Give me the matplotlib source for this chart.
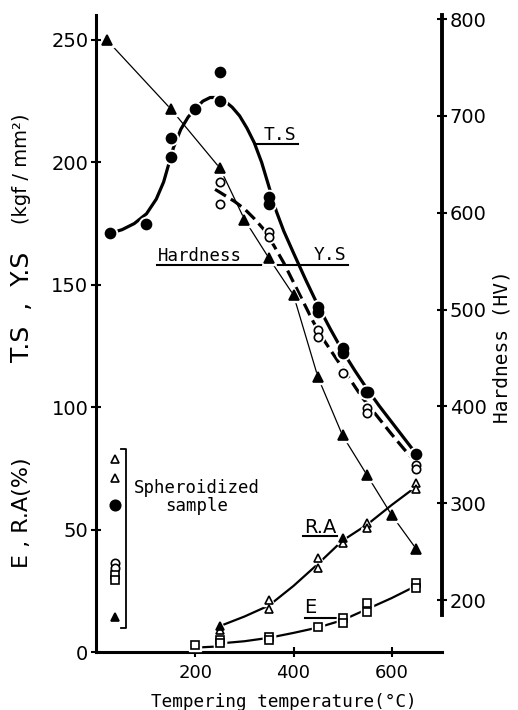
import matplotlib
matplotlib.use('Agg')
import matplotlib.pyplot as plt

# --- data ----------------------------------------------------------------
# tensile strength (filled circles), kgf/mm2
ts_temp = [25, 100, 150, 150, 200, 250, 250, 350, 350, 450, 450, 500, 500, 547, 553, 650]
ts_val = [171, 175, 202, 210, 222, 225, 237, 186, 183, 141, 139, 124, 122, 106, 106, 81]
ts_curve_temp = [25, 50, 75, 100, 120, 135, 145, 155, 170, 185, 200, 215, 230, 245,
                 260, 275, 290, 305, 320, 335, 350, 365, 380, 400, 425, 450, 475,
                 500, 525, 550, 575, 600, 625, 650]
ts_curve_val = [171, 172.5, 175, 179, 185, 192, 199, 206, 213.5, 218.5, 222, 225,
                226.5, 226.5, 225, 222.5, 219, 214, 208, 200, 190, 180, 172, 163,
                152, 141.5, 132, 123, 115, 107.5, 100.5, 94, 87.5, 81]

# yield strength (open circles), kgf/mm2
ys_temp = [250, 250, 350, 350, 450, 450, 500, 550, 550, 650, 650]
ys_val = [192, 183, 171.6, 169.5, 131.5, 128.7, 114, 99.7, 97.6, 76.4, 74.8]
ys_curve_temp = [240, 260, 280, 300, 320, 340, 360, 380, 400, 420, 440, 460, 480,
                 500, 520, 540, 560, 580, 600, 625, 650]
ys_curve_val = [189, 186.5, 184, 181, 177, 172.5, 166, 159, 151, 143, 135, 128,
                122, 116, 110, 104, 99, 94, 89, 83, 77.5]

# hardness (filled triangles), HV
hv_temp = [20, 150, 250, 300, 350, 400, 450, 500, 550, 600, 650]
hv_val = [778, 707, 646, 593, 553, 515, 430, 370, 329, 288, 253]

# reduction of area (triangles), %
ra_temp = [250, 350, 350, 450, 450, 500, 550, 550, 650, 650]
ra_val = [9, 21.2, 17.6, 38.4, 34.3, 44.5, 52.7, 50.7, 69, 66.6]
ra_filled_temp = [250, 500]
ra_filled_val = [10.6, 46.6]
ra_curve_temp = [250, 300, 350, 400, 450, 500, 550, 600, 650]
ra_curve_val = [10.6, 14.5, 19, 27, 36, 45.5, 52, 60, 67.5]

# elongation (open squares), %
el_temp = [200, 250, 250, 350, 350, 450, 500, 500, 550, 550, 650, 650]
el_val = [2.9, 4.9, 3.5, 6.1, 4.9, 10.2, 13.9, 11.8, 20, 16.3, 28, 26]
el_curve_temp = [250, 300, 350, 400, 450, 500, 550, 600, 650]
el_curve_val = [3.5, 4.4, 5.8, 7.8, 10, 13, 17.5, 22, 27]

# spheroidized sample
sph_temp = 36
sph_ra = [78.8, 71]
sph_ts = [60]
sph_ys = [36.3, 34.3]
sph_el = [31.5, 29.4]
sph_ra_filled = [14.3]

W, H = 518, 710
MONO = 'DejaVu Sans Mono'


def marks(axis, x, y, marker, size, filled=True, halo=3.0):
    # white halo first so the curves look broken around each symbol
    axis.plot(x, y, ls='none', marker=marker, ms=size + halo, mfc='white',
              mec='white', zorder=3, clip_on=False)
    axis.plot(x, y, ls='none', marker=marker, ms=size,
              mfc='black' if filled else 'white', mec='black', mew=1.2,
              zorder=4, clip_on=False)


fig = plt.figure(figsize=(W / 100, H / 100), dpi=100)
ax = fig.add_axes([96 / W, (H - 652) / H, (442 - 96) / W, (652 - 15) / H])
ax.set_xlim(-3, 703)
ax.set_ylim(0, 260.2)

ax2 = ax.twinx()
ax2.set_ylim(146.3, 804.3)

# curves
ax.plot(ts_curve_temp, ts_curve_val, color='black', lw=2.3, zorder=2,
        solid_joinstyle='round')
ax.plot(ys_curve_temp, ys_curve_val, color='black', lw=2.3, zorder=2,
        dashes=(4, 1.8))
ax2.plot(hv_temp, hv_val, color='black', lw=0.9, zorder=2)
ax.plot(ra_curve_temp, ra_curve_val, color='black', lw=1.6, zorder=2)
ax.plot(el_curve_temp, el_curve_val, color='black', lw=1.6, zorder=2)
ax.plot(el_temp[:2], [1.8, 2.3], color='black', lw=1.6, zorder=2)

# symbols
marks(ax, ts_temp, ts_val, 'o', 7.2, True)
marks(ax, ys_temp, ys_val, 'o', 6, False)
marks(ax2, hv_temp, hv_val, '^', 6.5, True)
marks(ax, ra_temp, ra_val, '^', 5.8, False)
marks(ax, ra_filled_temp, ra_filled_val, '^', 6, True)
marks(ax, el_temp, el_val, 's', 5.2, False)

sx = [sph_temp]
marks(ax, sx * 2, sph_ra, '^', 5.8, False, halo=1)
marks(ax, sx, sph_ts, 'o', 7.5, True, halo=1)
marks(ax, sx * 2, sph_ys, 'o', 6, False, halo=1)
marks(ax, sx * 2, sph_el, 's', 5.2, False, halo=1)
marks(ax, sx, sph_ra_filled, '^', 6, True, halo=1)

# bracket + label for spheroidized sample
ax.plot([48, 58, 58, 48], [83, 83, 9.8, 9.8], color='black', lw=1.3)
ax.text(203, 63.5, 'Spheroidized\nsample', ha='center', va='center',
        family=MONO, fontsize=12.5, linespacing=1.0)

# curve labels with underlines
ax.text(372, 211, 'T.S', ha='center', va='center', family=MONO, fontsize=13)
ax.plot([321, 409], [207.5, 207.5], color='black', lw=1.5)
ax.text(209, 161.8, 'Hardness', ha='center', va='center', family=MONO, fontsize=12.5)
ax.text(474.5, 162, 'Y.S', ha='center', va='center', family=MONO, fontsize=13)
ax.plot([121, 511], [158, 158], color='black', lw=1.5)
ax.text(454, 51, 'R.A', ha='center', va='center', fontsize=14)
ax.plot([419, 489], [47.4, 47.4], color='black', lw=1.5)
ax.text(434, 18, 'E', ha='center', va='center', fontsize=14)
ax.plot([423, 495], [13.9, 13.9], color='black', lw=1.5)

# axes styling
for s in ['top', 'right']:
    ax.spines[s].set_visible(False)
for s in ['top', 'left', 'bottom']:
    ax2.spines[s].set_visible(False)
ax.spines['left'].set_linewidth(2.2)
ax.spines['bottom'].set_linewidth(2.2)
ax2.spines['right'].set_linewidth(2.8)
ax2.spines['right'].set_bounds(185, 804.3)

ax.set_yticks([0, 50, 100, 150, 200, 250])
ax.set_xticks([200, 400, 600])
ax2.set_yticks([200, 300, 400, 500, 600, 700, 800])
ax.tick_params(axis='y', direction='inout', length=7, width=1.5, labelsize=14, pad=2)
ax.tick_params(axis='x', direction='inout', length=7, width=1.5, labelsize=13, pad=5)
ax2.tick_params(axis='y', direction='inout', length=7, width=1.5, labelsize=14, pad=2)

# axis titles
fig.text(22 / W, 1 - 307 / H, 'T.S  ,  Y.S', rotation=90, ha='center', va='center',
         fontsize=18)
fig.text(22 / W, 1 - 169 / H, '(kgf / mm²)', rotation=90, ha='center', va='center',
         fontsize=14)
fig.text(22 / W, 1 - 513 / H, 'E , R.A(%)', rotation=90, ha='center', va='center',
         fontsize=16)
fig.text(502 / W, 1 - 347 / H, 'Hardness (HV)', rotation=90, ha='center',
         va='center', family=MONO, fontsize=14)
fig.text(284 / W, 1 - 702 / H, 'Tempering temperature(°C)', ha='center',
         va='center', family=MONO, fontsize=12.7)

fig.savefig('out.png', dpi=100)
